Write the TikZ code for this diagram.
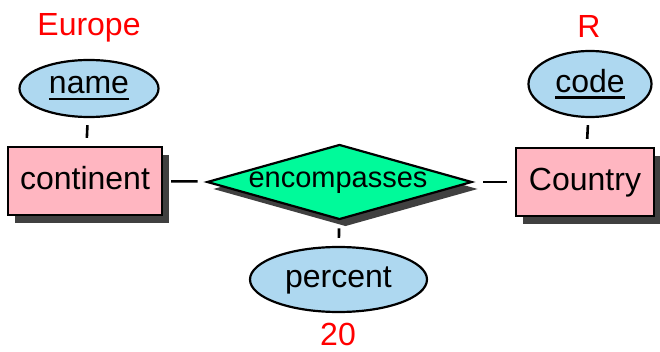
\documentclass[tikz,border=0pt]{standalone}
\usepackage{fontspec}
\setmainfont{Liberation Sans}
\usetikzlibrary{shapes.geometric,shadows}
\definecolor{entpink}{HTML}{FFB6C1}
\definecolor{attblue}{HTML}{AED8F0}
\definecolor{relgreen}{HTML}{00FA9A}
\definecolor{shadowgray}{HTML}{404040}
\newcommand{\keyul}[1]{\setbox0\hbox{#1}\rlap{\rule[-6.5pt]{\wd0}{2.6pt}}\box0}
\tikzset{
  big/.style={font=\fontsize{32}{38}\selectfont},
  entity/.style={draw=black, line width=2.2pt, fill=entpink, inner sep=0pt, big,
    text height=24pt, text depth=6pt,
    drop shadow={shadow xshift=7pt, shadow yshift=-8pt, opacity=1, fill=shadowgray}},
  attrib/.style={ellipse, draw=black, line width=2.2pt, fill=attblue, inner sep=0pt, big},
  relship/.style={diamond, draw=black, line width=2.2pt, fill=relgreen, inner sep=0pt, aspect=3.5,
    drop shadow={shadow xshift=6pt, shadow yshift=-7pt, opacity=1, fill=shadowgray}},
  conn/.style={line width=2.6pt},
  note/.style={text=red, big, anchor=base, inner sep=0pt}
}
\begin{document}
\begin{tikzpicture}[x=1pt,y=-1pt]
\useasboundingbox (0,0) rectangle (660,352);
% entities
\node[entity, minimum width=154pt, minimum height=68pt] (continent) at (85,181) {continent};
\node[entity, minimum width=138pt, minimum height=68pt] (country) at (585,182) {Country};
% relationship
\node[relship, minimum width=265pt, minimum height=75pt] (rel) at (339.5,182) {};
\node[inner sep=0pt, anchor=base, font=\fontsize{29}{34}\selectfont] (reltext) at (338,188) {encompasses};
% attributes
\node[attrib, minimum width=139pt, minimum height=57pt] (name) at (89,88.5) {\keyul{name}};
\node[attrib, minimum width=123pt, minimum height=66pt] (code) at (590,84) {\keyul{code}};
\node[attrib, minimum width=177pt, minimum height=65pt, text height=22pt, text depth=7pt] (percent) at (338.5,279.5) {percent};
% notes
\node[note] (europe) at (89,36) {Europe};
\node[note] (r) at (589,38) {R};
\node[note] (twenty) at (338,345) {20};
% connectors
\draw[conn, shorten <=7pt, shorten >=8pt] (name) -- (continent);
\draw[conn, shorten <=7pt, shorten >=8pt] (code) -- (country);
\draw[conn, shorten <=8pt, shorten >=10pt] (continent) -- (rel);
\draw[conn, shorten <=8pt, shorten >=10pt] (country) -- (rel);
\draw[conn, shorten <=8pt, shorten >=8pt] (rel) -- (percent);
\end{tikzpicture}
\end{document}
